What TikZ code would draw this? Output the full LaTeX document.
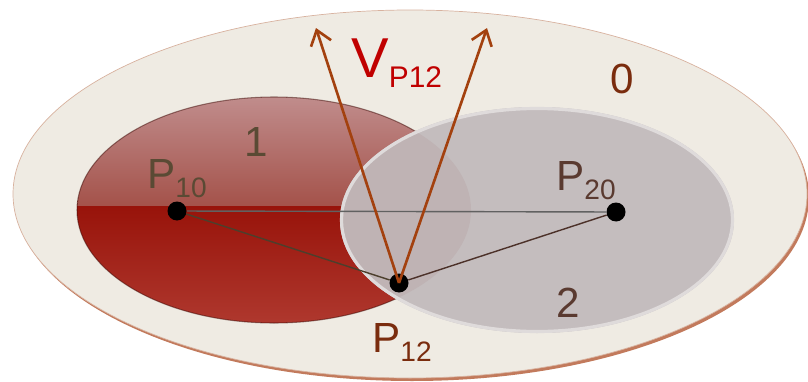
\documentclass[tikz,border=0pt]{standalone}
\usepackage{fontspec}
\setmainfont{Liberation Sans}
\usetikzlibrary{arrows.meta,positioning}
\definecolor{cBase}{HTML}{EFEBE3}
\definecolor{cShadow}{HTML}{C27A5C}
\definecolor{cRedHiT}{HTML}{C29090}
\definecolor{cRedHiB}{HTML}{A4524A}
\definecolor{cRedLoT}{HTML}{98130A}
\definecolor{cRedLoB}{HTML}{B03A30}
\definecolor{cGrey}{HTML}{C4BDBE}
\definecolor{cGreyMix}{HTML}{BFB3B4}
\definecolor{cArrow}{HTML}{A3410F}
\definecolor{cVel}{HTML}{C00000}
\definecolor{cTxtA}{HTML}{5A4A34}
\definecolor{cTxtB}{HTML}{5A3A30}
\definecolor{cTxtC}{HTML}{7A2C0E}
\tikzset{
  sdot/.style={circle, fill=black, inner sep=0pt, minimum size=0.38cm},
  sline/.style={line width=0.8pt},
  svel/.style={draw=cArrow, line width=1.5pt,
               -{Straight Barb[length=8pt,width=12pt,line width=1.5pt]}},
  snum/.style={font=\fontsize{24}{24}\selectfont, inner sep=0pt},
  sbig/.style={font=\fontsize{32}{32}\selectfont, inner sep=0pt},
}
\newcommand{\sbs}[1]{\raisebox{-5.6pt}{\fontsize{16}{16}\selectfont #1}}

\begin{document}
\begin{tikzpicture}[x=0.02cm,y=-0.02cm]
\useasboundingbox (0,0) rectangle (808,382);
% region 0
\fill[cShadow] (412,197) ellipse [x radius=397, y radius=184];
\fill[cBase, draw=cShadow!50!cBase, line width=0.4pt] (410,194) ellipse [x radius=397, y radius=184];
% region 1
\begin{scope}
\clip (274,210) ellipse [x radius=197, y radius=113];
\shade[top color=cRedHiT, bottom color=cRedHiB] (70,90) rectangle (480,206);
\shade[top color=cRedLoT, bottom color=cRedLoB] (70,206) rectangle (480,330);
\end{scope}
\draw[cRedLoT!40!black, opacity=0.5, line width=0.6pt] (274,210) ellipse [x radius=197, y radius=113];
% region 2 (faint tint where it lies over region 1)
\fill[cGrey] (537,220) ellipse [x radius=197, y radius=113];
\begin{scope}
\clip (274,210) ellipse [x radius=197, y radius=113];
\fill[cGreyMix] (537,220) ellipse [x radius=197, y radius=113];
\end{scope}
\draw[white!45!cGrey, line width=1.8pt] (537,220) ellipse [x radius=195.5, y radius=111.5];
% points
\node[sdot] (p10) at (177,211) {};
\node[sdot] (p20) at (616,212) {};
\node[sdot] (p12) at (399,283) {};
\coordinate (vA) at (316,28);
\coordinate (vB) at (487,28);
\draw[sline, draw=black!62] (p10) -- (p20);
\draw[sline, draw=cTxtA!85!black] (p10) -- (p12);
\draw[sline, draw=cTxtB!85!black] (p12) -- (p20);
\draw[svel] (p12.center) -- (vA);
\draw[svel] (p12.center) -- (vB);
% labels
\node[snum, text=cTxtC, anchor=base] (lbl0) at (622,93) {0};
\node[snum, text=cTxtA, anchor=base] (lbl1) at (256,156) {1};
\node[snum, text=cTxtB, anchor=base] (lbl2) at (568,317) {2};
\node[snum, text=cTxtA, anchor=base west] (lblP10) at (147,188) {P\sbs{10}};
\node[snum, text=cTxtB, anchor=base west] (lblP20) at (556,190) {P\sbs{20}};
\node[snum, text=cTxtC, anchor=base west] (lblP12) at (372,352) {P\sbs{12}};
\node[sbig, text=cVel, anchor=base west] (lblV) at (351,77) {V\raisebox{-5.8pt}{\fontsize{17}{17}\selectfont P12}};
\end{tikzpicture}
\end{document}
